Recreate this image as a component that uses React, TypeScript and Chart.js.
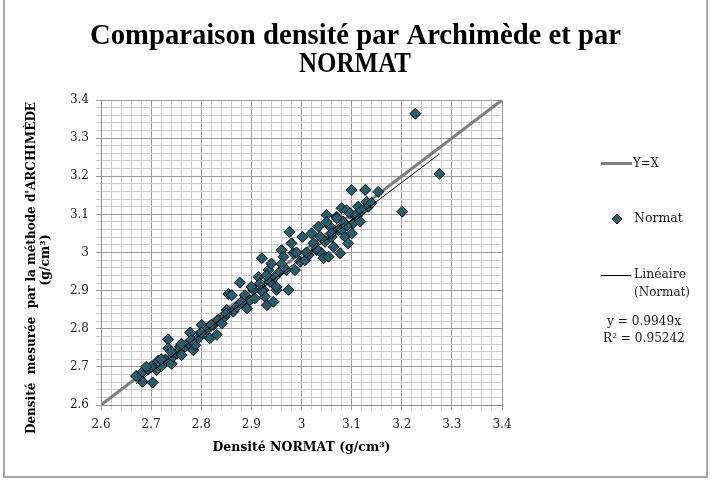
import React, { useEffect, useRef } from "react";
import { Chart, registerables } from "chart.js";

Chart.register(...registerables);

const titleLines = ["Comparaison densité par Archimède et par", "NORMAT"];
const xAxisTitle = "Densité NORMAT (g/cm³)";
const yAxisTitleLines = ["Densité  mesurée  par la méthode d'ARCHIMÈDE", "(g/cm³)"];
const legendLabels = ["Y=X", "Normat", "Linéaire", "(Normat)"];
const equationLines = ["y = 0.9949x", "R² = 0.95242"];

const axisMin = 2.6;
const axisMax = 3.4;

const identityX = [2.6, 3.4];

const normatX = [
  2.670, 2.683, 2.683, 2.703, 2.694, 2.704, 2.711, 2.721, 2.714, 2.728,
  2.734, 2.734, 2.741, 2.744, 2.751, 2.758, 2.761, 2.768, 2.774, 2.778,
  2.784, 2.788, 2.794, 2.801, 2.804, 2.811, 2.817, 2.824, 2.831, 2.834,
  2.841, 2.847, 2.851, 2.854, 2.861, 2.864, 2.871, 2.877, 2.887, 2.891,
  2.897, 2.904, 2.907, 2.914, 2.917, 2.921, 2.924, 2.927, 2.931, 2.934,
  2.937, 2.940, 2.944, 2.947, 2.950, 2.957, 2.960, 2.964, 2.970, 2.974,
  2.976, 2.980, 2.984, 2.987, 2.997, 3.002, 3.007, 3.014, 3.020, 3.024,
  3.030, 3.034, 3.037, 3.040, 3.044, 3.047, 3.050, 3.054, 3.057, 3.060,
  3.064, 3.070, 3.074, 3.077, 3.080, 3.083, 3.087, 3.090, 3.093, 3.097,
  3.100, 3.103, 3.110, 3.113, 3.117, 3.127, 3.130, 3.133, 3.153,
  3.227, 3.275, 3.201,
  3.060, 3.080, 3.050, 3.110, 3.120, 3.140, 3.100, 3.090, 2.900, 2.880,
  2.930, 2.960, 2.990, 2.820, 2.780, 2.720, 2.700, 2.690, 2.740, 2.760,
  2.800, 2.850, 2.950, 2.920, 3.010, 3.030, 3.070,
];

const archimedeY = [
  2.676, 2.687, 2.661, 2.659, 2.694, 2.701, 2.692, 2.702, 2.716, 2.718,
  2.772, 2.749, 2.708, 2.727, 2.735, 2.753, 2.731, 2.753, 2.762, 2.790,
  2.744, 2.757, 2.775, 2.810, 2.788, 2.797, 2.775, 2.810, 2.784, 2.823,
  2.814, 2.832, 2.849, 2.891, 2.888, 2.845, 2.858, 2.921, 2.888, 2.853,
  2.875, 2.902, 2.880, 2.936, 2.919, 2.985, 2.902, 2.884, 2.862, 2.954,
  2.923, 2.971, 2.871, 2.936, 2.902, 2.950, 3.006, 2.989, 2.954, 2.902,
  3.054, 3.024, 2.998, 2.954, 2.976, 3.041, 2.980, 2.993, 3.050, 3.024,
  3.006, 3.068, 3.041, 2.998, 2.985, 3.028, 3.098, 2.989, 3.068, 3.041,
  3.015, 3.094, 3.059, 2.998, 3.116, 3.081, 3.041, 3.111, 3.024, 3.103,
  3.164, 3.076, 3.094, 3.120, 3.081, 3.164, 3.133, 3.120, 3.159,
  3.364, 3.206, 3.107,
  3.050, 3.060, 3.080, 3.100, 3.110, 3.130, 3.050, 3.070, 2.910, 2.870,
  2.940, 2.970, 3.000, 2.810, 2.770, 2.720, 2.700, 2.700, 2.740, 2.760,
  2.790, 2.840, 2.910, 2.900, 3.000, 3.010, 3.090,
];

const trendSlope = 0.9949;
const trendX = [2.67, 3.275];

const isMajor = (v: number) => Math.round(v * 100) % 10 === 0;

export default function App() {
  const canvasRef = useRef<HTMLCanvasElement | null>(null);

  useEffect(() => {
    const canvas = canvasRef.current;
    if (!canvas) return;

    const tickValues: { value: number }[] = [];
    for (let i = 0; i <= 40; i++) tickValues.push({ value: (260 + 2 * i) / 100 });

    const decorPlugin = {
      id: "decor",
      beforeDraw(chart: any) {
        const ctx = chart.ctx;
        ctx.save();
        ctx.fillStyle = "#ffffff";
        ctx.fillRect(0, 0, chart.width, chart.height);
        ctx.restore();
      },
      afterDraw(chart: any) {
        const ctx = chart.ctx;
        const area = chart.chartArea;
        ctx.save();
        // outer frame
        ctx.strokeStyle = "#a6a6a6";
        ctx.lineWidth = 2;
        ctx.strokeRect(4, -5, 703, 482);

        // title
        ctx.fillStyle = "#000000";
        ctx.textAlign = "center";
        ctx.textBaseline = "alphabetic";
        ctx.font = 'bold 29px "Liberation Serif"';
        ctx.fillText(titleLines[0], 355.5, 44, 531);
        ctx.fillText(titleLines[1], 355, 72, 112);

        // x axis title
        ctx.font = 'bold 12.5px "DejaVu Serif"';
        ctx.textBaseline = "middle";
        ctx.fillText(xAxisTitle, (area.left + area.right) / 2, 448, 178);

        // y axis title
        ctx.save();
        ctx.translate(32, 268);
        ctx.rotate(-Math.PI / 2);
        ctx.font = 'bold 12.5px "DejaVu Serif"';
        ctx.fillText(yAxisTitleLines[0], 0, 0, 332);
        ctx.restore();
        ctx.save();
        ctx.translate(46, 260);
        ctx.rotate(-Math.PI / 2);
        ctx.font = 'bold 12.5px "DejaVu Serif"';
        ctx.fillText(yAxisTitleLines[1], 0, 0);
        ctx.restore();

        // legend
        ctx.font = '12.5px "DejaVu Serif"';
        ctx.textAlign = "left";
        ctx.textBaseline = "middle";
        ctx.fillStyle = "#1a1a1a";
        // Y=X
        ctx.strokeStyle = "#7f7f7f";
        ctx.lineWidth = 3;
        ctx.beginPath();
        ctx.moveTo(601, 163.5);
        ctx.lineTo(632, 163.5);
        ctx.stroke();
        ctx.fillText(legendLabels[0], 633, 164, 26);
        // Normat diamond
        ctx.fillStyle = "#255e6e";
        ctx.strokeStyle = "#000000";
        ctx.lineWidth = 1;
        ctx.beginPath();
        ctx.moveTo(617, 214);
        ctx.lineTo(622, 219);
        ctx.lineTo(617, 224);
        ctx.lineTo(612, 219);
        ctx.closePath();
        ctx.fill();
        ctx.stroke();
        ctx.fillStyle = "#1a1a1a";
        ctx.fillText(legendLabels[1], 634, 219, 49);
        // Linear
        ctx.strokeStyle = "#000000";
        ctx.lineWidth = 1;
        ctx.beginPath();
        ctx.moveTo(601, 275.5);
        ctx.lineTo(631, 275.5);
        ctx.stroke();
        ctx.fillText(legendLabels[2], 634, 275, 52);
        ctx.fillText(legendLabels[3], 634, 293, 56);
        // equation
        ctx.textAlign = "center";
        ctx.fillText(equationLines[0], 644, 322, 74);
        ctx.fillText(equationLines[1], 644, 339, 82);
        ctx.restore();
      },
    };

    const gridColor = (c: any) =>
      c.tick && isMajor(c.tick.value) ? "#9a9a9a" : "#cdcdcd";

    const makeScale = (axis: "x" | "y") => ({
      type: "linear" as const,
      min: axisMin,
      max: axisMax,
      afterBuildTicks: (scale: any) => {
        scale.ticks = tickValues.map((t) => ({ value: t.value }));
      },
      afterFit: (scale: any) => {
        if (axis === "y") scale.width = 101;
        else scale.height = 80;
      },
      border: { display: true, color: "#8c8c8c", width: 1 },
      grid: {
        color: gridColor,
        tickColor: gridColor,
        tickLength: 5,
        lineWidth: 1,
        drawTicks: true,
      },
      ticks: {
        autoSkip: false,
        maxRotation: 0,
        padding: axis === "y" ? 7 : 8,
        color: "#222222",
        font: { family: '"DejaVu Serif"', size: 12 },
        callback: (v: any) => {
          const n = Number(v);
          return isMajor(n) ? String(Math.round(n * 10) / 10) : "";
        },
      },
    });

    const chart = new Chart(canvas, {
      type: "scatter",
      data: {
        datasets: [
          {
            label: "Linéaire (Normat)",
            type: "line",
            data: trendX.map((x) => ({ x, y: trendSlope * x })),
            borderColor: "#000000",
            borderWidth: 1,
            pointRadius: 0,
            fill: false,
            order: 0,
          },
          {
            label: "Normat",
            data: normatX.map((x, i) => ({ x, y: archimedeY[i] })),
            pointStyle: "rectRot",
            pointRadius: 5.5,
            pointHoverRadius: 5.5,
            backgroundColor: "#255e6e",
            borderColor: "#0a0a0a",
            borderWidth: 1,
            order: 1,
          },
          {
            label: "Y=X",
            type: "line",
            data: identityX.map((x) => ({ x, y: x })),
            borderColor: "#7f7f7f",
            borderWidth: 3,
            pointRadius: 0,
            fill: false,
            order: 2,
          },
        ],
      },
      options: {
        responsive: false,
        animation: false,
        devicePixelRatio: 1,
        layout: { padding: { top: 100, right: 210, left: 0, bottom: 0 } },
        plugins: {
          legend: { display: false },
          title: { display: false },
          tooltip: { enabled: false },
        },
        scales: {
          x: makeScale("x"),
          y: makeScale("y"),
        },
      } as any,
      plugins: [decorPlugin],
    });

    return () => chart.destroy();
  }, []);

  return (
    <div style={{ position: "absolute", left: 0, top: 0, width: 712, height: 485 }}>
      <canvas ref={canvasRef} width={712} height={485} />
    </div>
  );
}
